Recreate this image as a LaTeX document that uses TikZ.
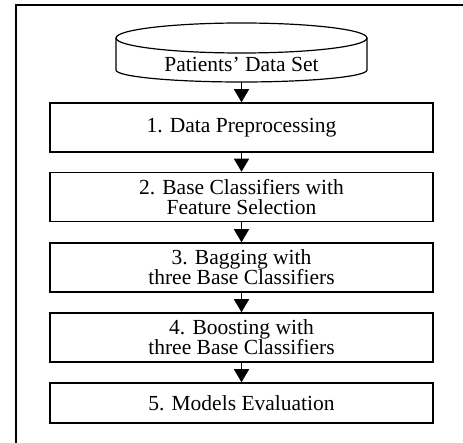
\documentclass[tikz,border=0pt]{standalone}
\usepackage{fontspec}
\setmainfont{Liberation Serif}
\usetikzlibrary{arrows.meta}
\tikzset{
  label text/.style={align=center, font=\fontsize{21.5}{20}\selectfont},
  stage/.style={label text, draw, line width=1.5pt, minimum width=383pt, minimum height=#1, inner sep=2pt},
  stage/.default=49pt,
  store/.style={line width=1.2pt},
  flow/.style={-{Triangle[length=13pt,width=15pt]}, line width=1.5pt},
}
\begin{document}
\begin{tikzpicture}[x=1pt,y=-1pt]
  \useasboundingbox (0,0) rectangle (463,443);
  % outer frame, cut off at right and bottom
  \draw[line width=2pt] (463,5) -- (16,5) -- (16,443);
  % data set drum
  \draw[store] (116,38) -- (116,70) arc[start angle=180, end angle=0, x radius=125.5, y radius=12] -- (367,38);
  \draw[store] (241.5,38) ellipse[x radius=125.5, y radius=15];
  \coordinate (drum) at (241.5,82);
  \node[label text] (data) at (241.5,64) {Patients’ Data Set};
  \node[stage] (s1) at (241.5,127.5) {1. Data Preprocessing};
  \node[stage] (s2) at (241.5,197) {2. Base Classifiers with\\Feature Selection};
  \node[stage] (s3) at (241.5,267.5) {3. Bagging with\\three Base Classifiers};
  \node[stage] (s4) at (241.5,337.5) {4. Boosting with\\three Base Classifiers};
  \node[stage=40pt] (s5) at (241.5,403) {5. Models Evaluation};
  \draw[flow] (drum) -- (s1.north);
  \foreach \a/\b in {s1/s2,s2/s3,s3/s4,s4/s5} { \draw[flow] (\a.south) -- (\b.north); }
\end{tikzpicture}
\end{document}
